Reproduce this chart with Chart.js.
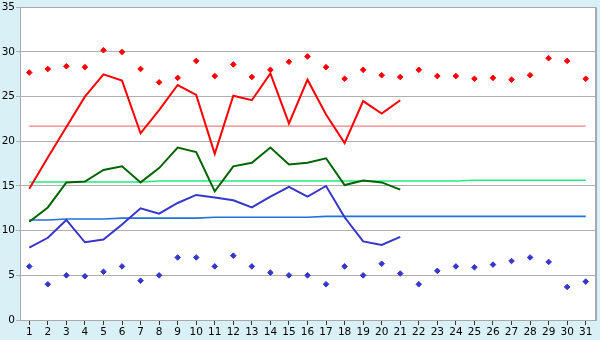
<!DOCTYPE html>
<html>
<head>
<meta charset="utf-8">
<script src="https://cdn.jsdelivr.net/npm/chart.js@4/dist/chart.umd.min.js"></script>
<style>
  html, body { margin: 0; padding: 0; background: #d9f0f7; }
  #wrap { width: 600px; height: 340px; position: relative; }
</style>
</head>
<body>
<div id="wrap"><canvas id="c" width="600" height="340"></canvas></div>
<script>
const days = ['1','2','3','4','5','6','7','8','9','10','11','12','13','14','15','16','17','18','19','20','21','22','23','24','25','26','27','28','29','30','31'];
const recordHigh = [27.7,28.1,28.4,28.3,30.2,30.0,28.1,26.6,27.1,29.0,27.3,28.6,27.2,28.0,28.9,29.5,28.3,27.0,28.0,27.4,27.2,28.0,27.3,27.3,27.0,27.1,26.9,27.4,29.3,29.0,27.0];
const dailyMax = [14.7,18.2,21.6,25.0,27.5,26.8,20.9,23.5,26.3,25.2,18.6,25.1,24.6,27.6,22.0,26.9,23.0,19.8,24.5,23.1,24.6];
const normalMax = [21.7,21.7,21.7,21.7,21.7,21.7,21.7,21.7,21.7,21.7,21.7,21.7,21.7,21.7,21.7,21.7,21.7,21.7,21.7,21.7,21.7,21.7,21.7,21.7,21.7,21.7,21.7,21.7,21.7,21.7,21.7];
const dailyMean = [11.0,12.6,15.4,15.5,16.8,17.2,15.4,17.0,19.3,18.8,14.4,17.2,17.6,19.3,17.4,17.6,18.1,15.1,15.6,15.4,14.6];
const normalMean = [15.45,15.45,15.45,15.45,15.45,15.45,15.45,15.55,15.55,15.55,15.55,15.55,15.55,15.55,15.55,15.55,15.55,15.55,15.55,15.55,15.55,15.55,15.55,15.55,15.65,15.65,15.65,15.65,15.65,15.65,15.65];
const dailyMin = [8.1,9.2,11.2,8.7,9.0,10.7,12.5,11.9,13.1,14.0,13.7,13.4,12.6,13.8,14.9,13.8,15.0,11.5,8.8,8.4,9.3];
const normalMin = [11.2,11.2,11.3,11.3,11.3,11.4,11.4,11.4,11.4,11.4,11.5,11.5,11.5,11.5,11.5,11.5,11.6,11.6,11.6,11.6,11.6,11.6,11.6,11.6,11.6,11.6,11.6,11.6,11.6,11.6,11.6];
const recordLow = [6.0,4.0,5.0,4.9,5.4,6.0,4.4,5.0,7.0,7.0,6.0,7.2,6.0,5.3,5.0,5.0,4.0,6.0,5.0,6.3,5.2,4.0,5.5,6.0,5.9,6.2,6.6,7.0,6.5,3.7,4.3];
const yTicks = [0,5,10,15,20,25,30,35];

const areaPlugin = {
  id: 'area',
  beforeDraw(chart) {
    const a = chart.chartArea, ctx = chart.ctx;
    ctx.save();
    ctx.fillStyle = '#ffffff';
    ctx.fillRect(a.left, a.top, a.right - a.left, a.bottom - a.top);
    ctx.restore();
  },
  afterDraw(chart) {
    const a = chart.chartArea, ctx = chart.ctx;
    ctx.save();
    ctx.strokeStyle = '#a9a9a9';
    ctx.lineWidth = 1;
    ctx.strokeRect(Math.round(a.left) + 0.5, Math.round(a.top) + 0.5, Math.round(a.right - a.left), Math.round(a.bottom - a.top));
    ctx.beginPath();
    ctx.moveTo(Math.round(a.right) + 1.5, a.top);
    ctx.lineTo(Math.round(a.right) + 1.5, a.bottom + 1);
    ctx.stroke();
    ctx.restore();
  }
};

const lineDs = (data, color, width, order) => ({
  data, borderColor: color, backgroundColor: color, borderWidth: width,
  pointRadius: 0, pointHoverRadius: 0, tension: 0, fill: false, order, spanGaps: false
});
const pointDs = (data, color, order) => ({
  data, showLine: false, borderColor: color, backgroundColor: color,
  pointStyle: 'rectRot', pointRadius: 2.8, pointBorderWidth: 1, order
});

new Chart(document.getElementById('c'), {
  type: 'line',
  data: {
    labels: days,
    datasets: [
      lineDs(normalMax, '#f08080', 1.2, 8),
      lineDs(normalMean, '#22ee80', 1.6, 7),
      lineDs(normalMin, '#1f72da', 1.6, 6),
      lineDs(dailyMax, '#ff0000', 2, 3),
      lineDs(dailyMean, '#006400', 2, 4),
      lineDs(dailyMin, '#3636cc', 2, 5),
      pointDs(recordHigh, '#ff0000', 1),
      pointDs(recordLow, '#3636cc', 2)
    ]
  },
  options: {
    responsive: false,
    animation: false,
    devicePixelRatio: 1,
    layout: { padding: { top: 5, right: 5, left: 0, bottom: 0 } },
    plugins: { legend: { display: false }, tooltip: { enabled: false } },
    scales: {
      x: {
        offset: true,
        grid: { display: true, drawOnChartArea: false, drawTicks: true, tickLength: 5, color: '#333333', offset: false },
        border: { display: true, color: '#a9a9a9' },
        ticks: { autoSkip: false, maxRotation: 0, minRotation: 0, padding: 1, color: '#000000', font: { family: 'DejaVu Sans', size: 10.5 } },
        afterFit(s) { s.height = 20; }
      },
      y: {
        min: 0, max: 35,
        afterBuildTicks(s) { s.ticks = yTicks.map(v => ({ value: v })); },
        grid: { color: '#b0b0b0', drawTicks: true, tickLength: 4, lineWidth: 1 },
        border: { display: true, color: '#a9a9a9' },
        ticks: { padding: 1, color: '#000000', font: { family: 'DejaVu Sans', size: 10.5 } },
        afterFit(s) { s.width = 20; }
      }
    }
  },
  plugins: [areaPlugin]
});
</script>
</body>
</html>
